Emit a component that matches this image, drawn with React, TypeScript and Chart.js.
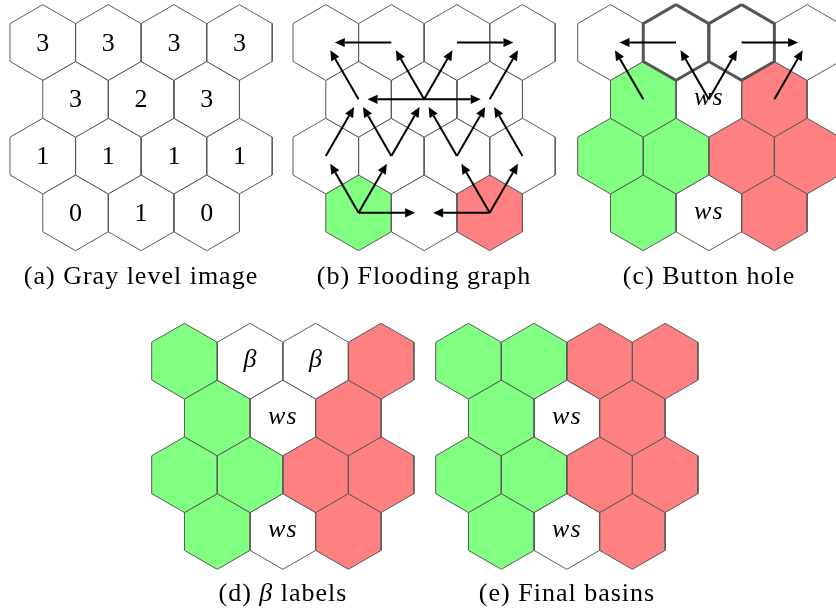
import React, { useEffect, useRef } from "react";
import { Chart, registerables } from "chart.js";
Chart.register(...registerables);

// ---------- data ----------
// (a) gray levels, row by row (rows alternate 4 / 3 cells)
const grayLevels: number[][] = [
  [3, 3, 3, 3],
  [3, 2, 3],
  [1, 1, 1, 1],
  [0, 1, 0],
];
// cell labels: g = green basin, r = red basin, w = unlabelled, ws = watershed, b = beta
const floodLabels: string[][] = [
  ["w", "w", "w", "w"],
  ["w", "w", "w"],
  ["w", "w", "w", "w"],
  ["g", "w", "r"],
];
const buttonLabels: string[][] = [
  ["w", "w", "w", "w"],
  ["g", "ws", "r"],
  ["g", "g", "r", "r"],
  ["g", "ws", "r"],
];
const betaLabels: string[][] = [
  ["g", "b", "b", "r"],
  ["g", "ws", "r"],
  ["g", "g", "r", "r"],
  ["g", "ws", "r"],
];
const finalLabels: string[][] = [
  ["g", "g", "r", "r"],
  ["g", "ws", "r"],
  ["g", "g", "r", "r"],
  ["g", "ws", "r"],
];
// flooding graph edges: [fromRow, fromCol, toRow, toCol]
const floodEdges: number[][] = [
  [0, 1, 0, 0], [0, 2, 0, 3],
  [1, 0, 0, 0], [1, 1, 0, 1], [1, 1, 0, 2], [1, 2, 0, 3],
  [1, 1, 1, 0], [1, 1, 1, 2],
  [2, 0, 1, 0], [2, 1, 1, 0], [2, 1, 1, 1], [2, 2, 1, 1], [2, 2, 1, 2], [2, 3, 1, 2],
  [3, 0, 2, 0], [3, 0, 2, 1], [3, 0, 3, 1], [3, 2, 3, 1], [3, 2, 2, 2], [3, 2, 2, 3],
];
const buttonEdges: number[][] = [
  [0, 1, 0, 0], [0, 2, 0, 3],
  [1, 0, 0, 0], [1, 1, 0, 1], [1, 1, 0, 2], [1, 2, 0, 3],
];
const buttonHoleCells: number[][] = [[0, 1], [0, 2]];
const captions: string[] = [
  "(a) Gray level image",
  "(b) Flooding graph",
  "(c) Button hole",
  "(d) β labels",
  "(e) Final basins",
];

// ---------- layout / style ----------
const SIDE = 37.85;
const HW = SIDE * Math.sqrt(3);
const PANELS = [
  { x: 10, y: 4.67, capX: 141, capY: 284 },
  { x: 293, y: 4.67, capX: 424, capY: 284 },
  { x: 577.7, y: 4.67, capX: 709, capY: 284 },
  { x: 151.7, y: 323.3, capX: 283, capY: 601 },
  { x: 435.7, y: 323.3, capX: 567, capY: 601 },
];
const FILL: Record<string, string> = { g: "#80ff80", r: "#ff8080", w: "#ffffff", ws: "#ffffff", b: "#ffffff" };
const EDGE = "#5a5a5a";
const FAMILY = "Liberation Serif";
const FS = 26;
const GAP = 9;
const HEAD = 10;
const HEAD_W = 4.6;

function center(p: number, r: number, c: number) {
  const P = PANELS[p];
  return {
    x: P.x + HW / 2 + c * HW + (r % 2 === 1 ? HW / 2 : 0),
    y: P.y + SIDE + r * 1.5 * SIDE,
  };
}
function hexPts(cx: number, cy: number) {
  const pts = [];
  for (let i = 0; i <= 6; i++) {
    const a = ((-90 + 60 * i) * Math.PI) / 180;
    pts.push({ x: cx + SIDE * Math.cos(a), y: cy + SIDE * Math.sin(a) });
  }
  return pts;
}
function edgeGeom(p: number, e: number[]) {
  const s = center(p, e[0], e[1]);
  const t = center(p, e[2], e[3]);
  const dx = t.x - s.x, dy = t.y - s.y;
  const L = Math.hypot(dx, dy);
  const ux = dx / L, uy = dy / L;
  const tip = { x: t.x - GAP * ux, y: t.y - GAP * uy };
  const base = { x: tip.x - HEAD * ux, y: tip.y - HEAD * uy };
  return { s, tip, base, ux, uy };
}

export default function App() {
  const ref = useRef<HTMLCanvasElement | null>(null);
  useEffect(() => {
    if (!ref.current) return;
    const datasets: any[] = [];
    const addGrid = (p: number, labels: string[][] | null) => {
      const rows = labels || grayLevels.map((row) => row.map(() => "w"));
      rows.forEach((row, r) =>
        row.forEach((lab, c) => {
          const cc = center(p, r, c);
          datasets.push({
            type: "scatter",
            data: hexPts(cc.x, cc.y),
            showLine: true,
            fill: "shape",
            backgroundColor: FILL[lab],
            borderColor: EDGE,
            borderWidth: 1,
            pointRadius: 0,
            order: 3,
          });
        })
      );
    };
    addGrid(0, null);
    addGrid(1, floodLabels);
    addGrid(2, buttonLabels);
    addGrid(3, betaLabels);
    addGrid(4, finalLabels);
    buttonHoleCells.forEach(([r, c]) => {
      const cc = center(2, r, c);
      datasets.push({
        type: "scatter",
        data: hexPts(cc.x, cc.y),
        showLine: true,
        fill: false,
        borderColor: "#555555",
        borderWidth: 3,
        borderJoinStyle: "miter",
        pointRadius: 0,
        order: 2,
      });
    });
    const addEdges = (p: number, edges: number[][]) =>
      edges.forEach((e) => {
        const g = edgeGeom(p, e);
        datasets.push({
          type: "scatter",
          data: [g.s, g.base],
          showLine: true,
          fill: false,
          borderColor: "#000000",
          borderWidth: 2,
          pointRadius: 0,
          order: 1,
        });
      });
    addEdges(1, floodEdges);
    addEdges(2, buttonEdges);

    const drawText = (ctx: any, segs: { t: string; it: boolean }[], x: number, y: number, spacing: number) => {
      const widths = segs.map((s) => {
        ctx.font = `${s.it ? "italic " : ""}${FS}px "${FAMILY}"`;
        return ctx.measureText(s.t).width + spacing * s.t.length;
      });
      const total = widths.reduce((a: number, b: number) => a + b, 0);
      let cx = x - total / 2;
      segs.forEach((s, i) => {
        ctx.font = `${s.it ? "italic " : ""}${FS}px "${FAMILY}"`;
        ctx.fillStyle = "#000";
        ctx.textAlign = "left";
        ctx.textBaseline = "alphabetic";
        if (spacing > 0) {
          let lx = cx;
          for (const ch of s.t) {
            ctx.fillText(ch, lx, y);
            lx += ctx.measureText(ch).width + spacing;
          }
        } else {
          ctx.fillText(s.t, cx, y);
        }
        cx += widths[i];
      });
    };

    const overlay = {
      id: "overlay",
      afterDraw(ch: any) {
        const { ctx, scales } = ch;
        const X = (v: number) => scales.x.getPixelForValue(v);
        const Y = (v: number) => scales.y.getPixelForValue(v);
        const heads = (p: number, edges: number[][]) =>
          edges.forEach((e) => {
            const g = edgeGeom(p, e);
            const px = -g.uy, py = g.ux;
            ctx.fillStyle = "#000";
            ctx.beginPath();
            ctx.moveTo(X(g.tip.x), Y(g.tip.y));
            ctx.lineTo(X(g.base.x + px * HEAD_W), Y(g.base.y + py * HEAD_W));
            ctx.lineTo(X(g.base.x - px * HEAD_W), Y(g.base.y - py * HEAD_W));
            ctx.closePath();
            ctx.fill();
          });
        grayLevels.forEach((row, r) =>
          row.forEach((v, c) => {
            const cc = center(0, r, c);
            drawText(ctx, [{ t: String(v), it: false }], X(cc.x), Y(cc.y) + 8, 0);
          })
        );
        const lbl = (p: number, labels: string[][]) =>
          labels.forEach((row, r) =>
            row.forEach((lab, c) => {
              const cc = center(p, r, c);
              if (lab === "ws") drawText(ctx, [{ t: "ws", it: true }], X(cc.x), Y(cc.y) + 6, 1);
              if (lab === "b") drawText(ctx, [{ t: "β", it: true }], X(cc.x), Y(cc.y) + 6, 0);
            })
          );
        lbl(2, buttonLabels);
        lbl(3, betaLabels);
        lbl(4, finalLabels);
        heads(1, floodEdges);
        heads(2, buttonEdges);
        captions.forEach((cap, i) => {
          const P = PANELS[i];
          let segs = [{ t: cap, it: false }];
          const k = cap.indexOf("β");
          if (k >= 0) {
            segs = [
              { t: cap.slice(0, k), it: false },
              { t: "β", it: true },
              { t: cap.slice(k + 1), it: false },
            ];
          }
          drawText(ctx, segs, X(P.capX), Y(P.capY), 1);
        });
      },
    };

    const chart = new Chart(ref.current, {
      type: "scatter",
      data: { datasets },
      options: {
        animation: false,
        responsive: false,
        maintainAspectRatio: false,
        layout: { padding: 0 },
        elements: { line: { tension: 0 } },
        plugins: { legend: { display: false }, tooltip: { enabled: false } },
        scales: {
          x: { type: "linear", min: 0, max: 836, display: false },
          y: { type: "linear", min: 0, max: 610, reverse: true, display: false },
        },
      },
      plugins: [overlay as any],
    } as any);
    return () => chart.destroy();
  }, []);
  return (
    <div style={{ position: "fixed", left: 0, top: 0, width: 836, height: 610, background: "#fff" }}>
      <canvas ref={ref} width={836} height={610} style={{ display: "block" }} />
    </div>
  );
}
